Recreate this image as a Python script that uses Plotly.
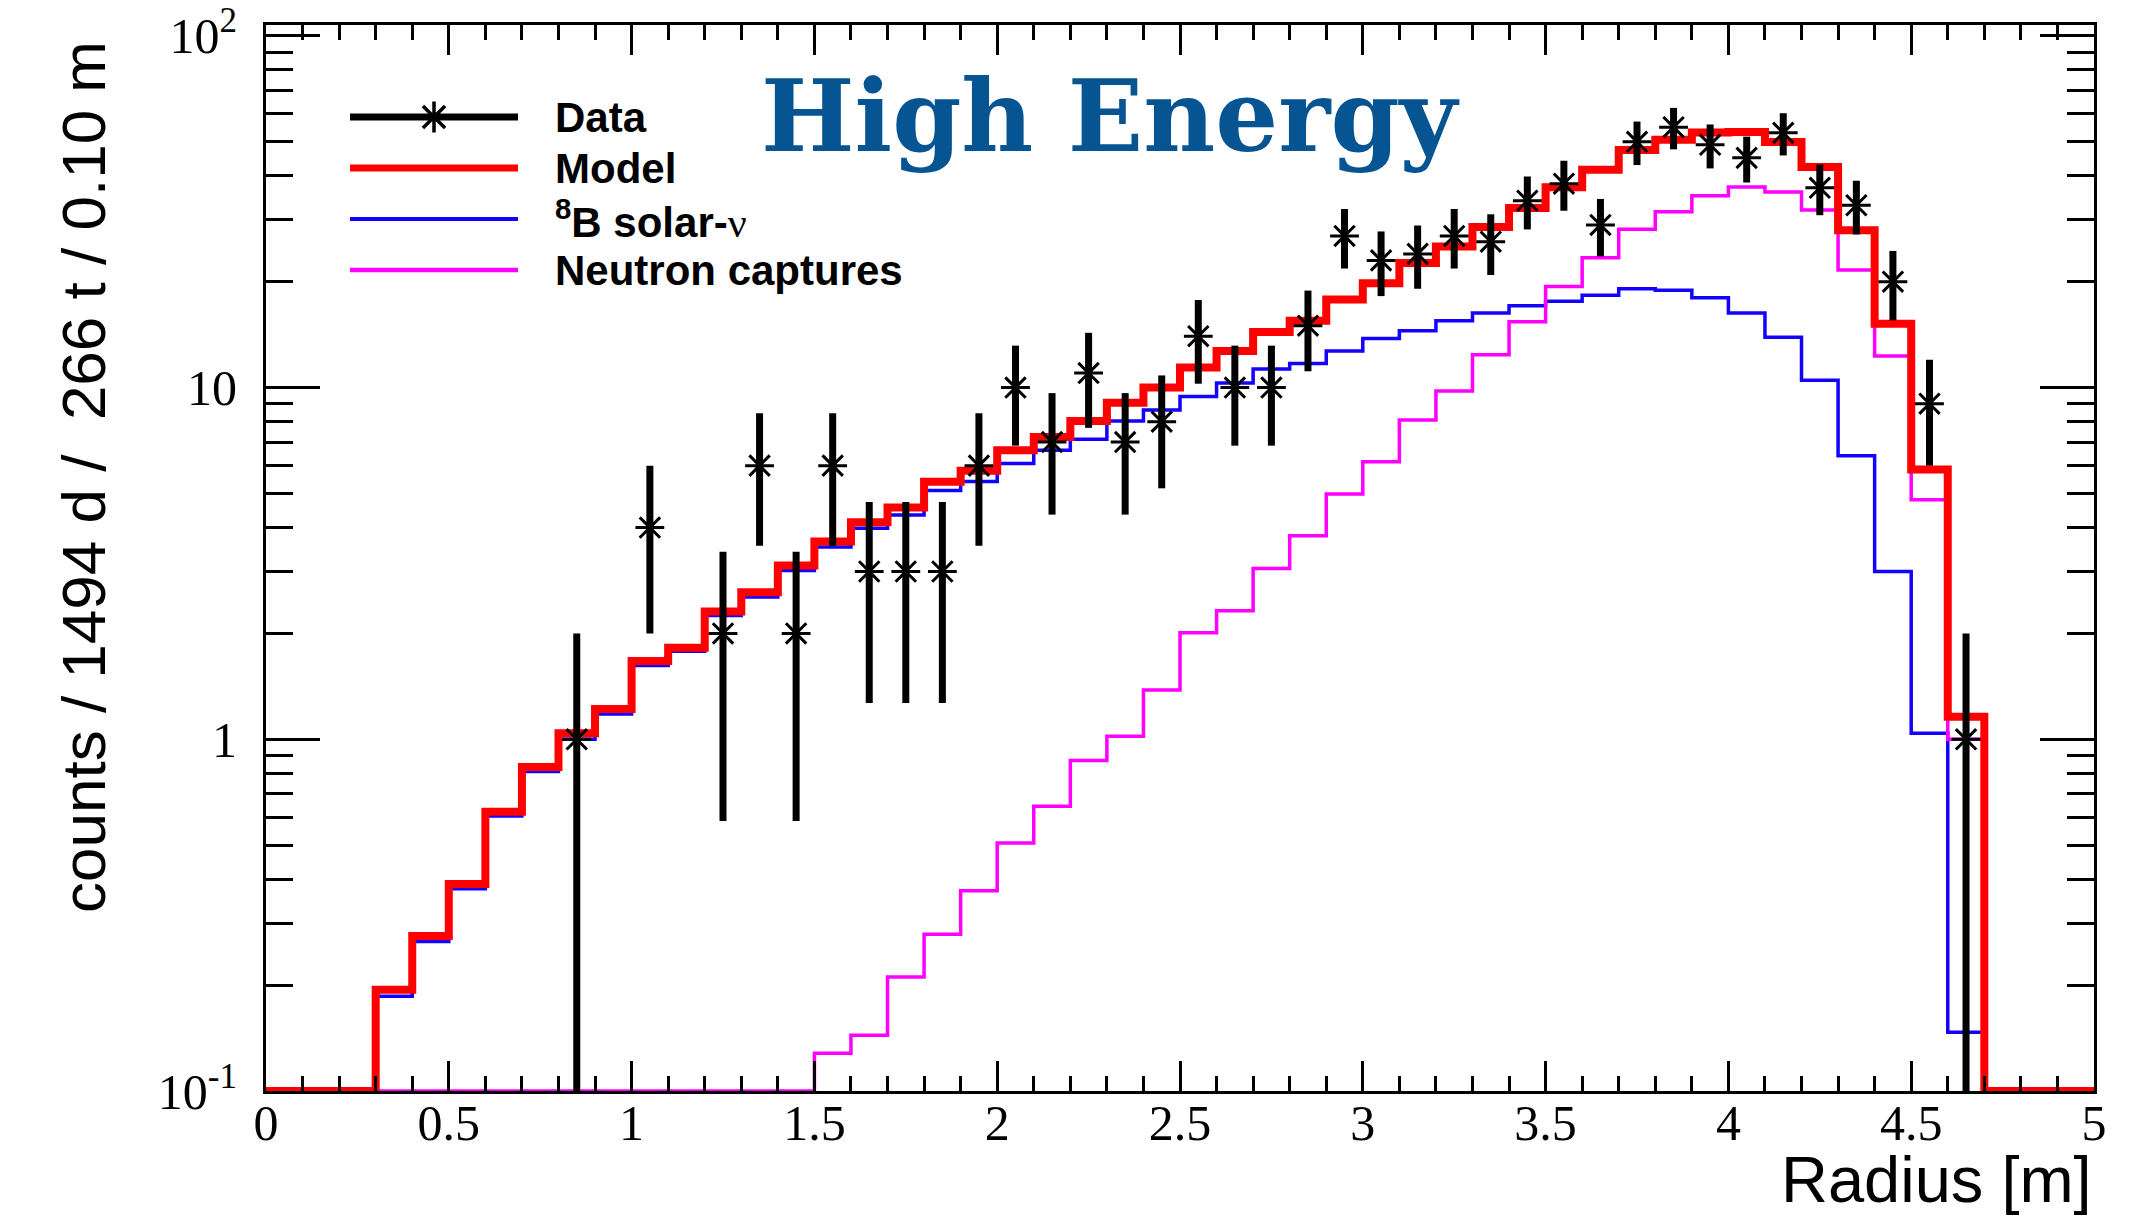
import numpy as np
import plotly.graph_objects as go

# Radial distribution, 0.1 m bins from 0 to 5 m
bin_edges = [round(0.1 * i, 1) for i in range(51)]
bin_centers = [round(0.05 + 0.1 * i, 2) for i in range(50)]

data_counts = [0, 0, 0, 0, 0, 0, 0, 0, 1, 0,
               4, 0, 2, 6, 2, 6, 3, 3, 3, 6,
               10, 7, 11, 7, 8, 14, 10, 10, 15, 27,
               23, 24, 27, 26, 34, 38, 29, 50, 55, 49,
               45, 53, 37, 33, 20, 9, 1, 0, 0, 0]

model = [0, 0, 0, 0.194, 0.276, 0.388, 0.622, 0.834, 1.04, 1.22,
         1.67, 1.82, 2.31, 2.62, 3.12, 3.65, 4.14, 4.56, 5.40, 5.80,
         6.64, 7.24, 8.04, 9.06, 10.0, 11.4, 12.7, 14.4, 15.5, 17.8,
         19.8, 22.6, 25.2, 28.6, 32.4, 37.1, 41.6, 47.4, 50.7, 53.1,
         53.3, 49.9, 42.4, 28.0, 15.2, 5.85, 1.16, 0, 0, 0]

b8_solar = [0, 0, 0, 0.186, 0.266, 0.376, 0.605, 0.81, 1.0, 1.18,
            1.62, 1.78, 2.25, 2.54, 3.02, 3.52, 3.98, 4.34, 5.10, 5.41,
            6.08, 6.64, 7.13, 8.04, 8.64, 9.43, 10.3, 11.3, 11.7, 12.7,
            13.8, 14.5, 15.5, 16.3, 17.1, 17.6, 18.3, 19.1, 18.9, 18.0,
            16.3, 13.9, 10.5, 6.4, 3.0, 1.04, 0.147, 0, 0, 0]

neutron_captures = [0, 0, 0, 0, 0, 0, 0, 0, 0, 0,
                    0, 0, 0, 0, 0, 0.128, 0.144, 0.211, 0.279, 0.371,
                    0.507, 0.645, 0.87, 1.02, 1.38, 2.01, 2.32, 3.06, 3.79, 4.98,
                    6.15, 8.09, 9.78, 12.4, 15.4, 19.4, 23.4, 28.2, 31.6, 35.1,
                    37.2, 36.0, 32.0, 21.6, 12.3, 4.8, 1.0, 0, 0, 0]

x_tick_vals = [0, 0.5, 1, 1.5, 2, 2.5, 3, 3.5, 4, 4.5, 5]
x_tick_text = ["0", "0.5", "1", "1.5", "2", "2.5", "3", "3.5", "4", "4.5", "5"]
y_tick_vals = [0.1, 1, 10, 100]
y_tick_text = ["10<sup>-1</sup>", "1", "10", "10<sup>2</sup>"]
y_minor_vals = [m * d for d in (0.1, 1, 10) for m in range(2, 10)]

Y_FLOOR = 0.1          # empty bins are drawn on the bottom of the frame
Y_RANGE = [-1, 2.031]  # log10 range

W, H = 2137, 1222
L, R, T, B = 266, 43, 25, 131
PX0, PX1, PY0, PY1 = L, W - R, T, H - B


def step_xy(values):
    ys = [v if v > 0 else Y_FLOOR for v in values]
    return bin_edges, ys + [ys[-1]]


fig = go.Figure()

for vals, color, width in ((b8_solar, "#1400FF", 3.5),
                           (neutron_captures, "#FF00FF", 3.5),
                           (model, "#FF0000", 8)):
    sx, sy = step_xy(vals)
    fig.add_trace(go.Scatter(x=sx, y=sy, mode="lines", line_shape="hv",
                             line=dict(color=color, width=width),
                             showlegend=False, hoverinfo="skip"))

# data points with Poisson errors
px = [c for c, n in zip(bin_centers, data_counts) if n > 0]
py = [n for n in data_counts if n > 0]
perr = list(np.sqrt(py))
fig.add_trace(go.Scatter(
    x=px, y=py, mode="markers",
    marker=dict(symbol="asterisk-open", size=24, color="black",
                line=dict(color="black", width=3)),
    error_y=dict(type="data", array=perr, arrayminus=perr, width=0,
                 thickness=7, color="black", visible=True),
    showlegend=False))

# legend glyphs on a pixel-scaled overlay
leg_x0, leg_x1, leg_text_x = 350, 518, 553
leg_rows = [117, 168, 219, 270]
fig.add_trace(go.Scatter(x=[leg_x0, leg_x1], y=[leg_rows[0]] * 2, mode="lines",
                         line=dict(color="black", width=7), xaxis="x2", yaxis="y2",
                         showlegend=False, hoverinfo="skip"))
fig.add_trace(go.Scatter(x=[(leg_x0 + leg_x1) / 2], y=[leg_rows[0]], mode="markers",
                         marker=dict(symbol="asterisk-open", size=26, color="black",
                                     line=dict(color="black", width=3.5)),
                         xaxis="x2", yaxis="y2", showlegend=False, hoverinfo="skip"))
for row, color, width in ((leg_rows[1], "#FF0000", 7),
                          (leg_rows[2], "#1400FF", 4),
                          (leg_rows[3], "#FF00FF", 4.5)):
    fig.add_trace(go.Scatter(x=[leg_x0, leg_x1], y=[row, row], mode="lines",
                             line=dict(color=color, width=width), xaxis="x2", yaxis="y2",
                             showlegend=False, hoverinfo="skip"))

leg_labels = ["Data", "Model",
              "<sup>8</sup>B solar-<span style='font-family:Liberation Serif;font-weight:normal'>ν</span>",
              "Neutron captures"]
annotations = []
for row, text in zip(leg_rows, leg_labels):
    annotations.append(dict(x=leg_text_x, y=row, xref="x2", yref="y2", text=text,
                            showarrow=False, xanchor="left", yanchor="middle",
                            font=dict(family="Liberation Sans", size=42, color="black",
                                      weight="bold")))

annotations.append(dict(x=(1110 - L) / (PX1 - PX0), y=(PY1 - 116) / (PY1 - PY0),
                        xref="paper", yref="paper", text="High Energy", showarrow=False,
                        xanchor="center", yanchor="middle",
                        font=dict(family="DejaVu Serif", size=99, color="#065592",
                                  weight="bold")))
annotations.append(dict(x=1.0, y=(PY1 - 1179) / (PY1 - PY0), xref="paper", yref="paper",
                        text="Radius [m]", showarrow=False, xanchor="right",
                        yanchor="middle",
                        font=dict(family="Liberation Sans", size=65, color="black")))
annotations.append(dict(x=(84 - L) / (PX1 - PX0), y=(PY1 - 477) / (PY1 - PY0),
                        xref="paper", yref="paper",
                        text="counts / 1494 d /  266 t / 0.10 m", showarrow=False,
                        textangle=-90, xanchor="center", yanchor="middle",
                        font=dict(family="Liberation Sans", size=62, color="black")))

tick_font = dict(family="Liberation Serif", size=50, color="black")
fig.update_layout(
    width=W, height=H,
    margin=dict(l=L, r=R, t=T, b=B, autoexpand=False),
    paper_bgcolor="white", plot_bgcolor="white",
    showlegend=False,
    annotations=annotations,
    xaxis=dict(range=[0, 5], showgrid=False, zeroline=False, automargin=False,
               showline=True, linecolor="black", linewidth=3, mirror="ticks",
               ticks="inside", ticklen=30, tickwidth=3, tickcolor="black",
               tickmode="array", tickvals=x_tick_vals, ticktext=x_tick_text,
               tickfont=tick_font, ticklabelstandoff=-14,
               minor=dict(ticks="inside", ticklen=15, tickwidth=3, tickcolor="black",
                          dtick=0.1, tick0=0, showgrid=False)),
    yaxis=dict(type="log", range=Y_RANGE, showgrid=False, zeroline=False, automargin=False,
               showline=True, linecolor="black", linewidth=3, mirror="ticks",
               ticks="inside", ticklen=54, tickwidth=3, tickcolor="black",
               tickmode="array", tickvals=y_tick_vals, ticktext=y_tick_text,
               tickfont=tick_font, ticklabelstandoff=16,
               minor=dict(ticks="inside", ticklen=27, tickwidth=3, tickcolor="black",
                          tickmode="array", tickvals=y_minor_vals, showgrid=False)),
    xaxis2=dict(overlaying="x", anchor="y2", range=[PX0, PX1], visible=False,
                automargin=False),
    yaxis2=dict(overlaying="y", anchor="x2", range=[PY1, PY0], visible=False,
                automargin=False),
)

fig.write_html("out.html")
